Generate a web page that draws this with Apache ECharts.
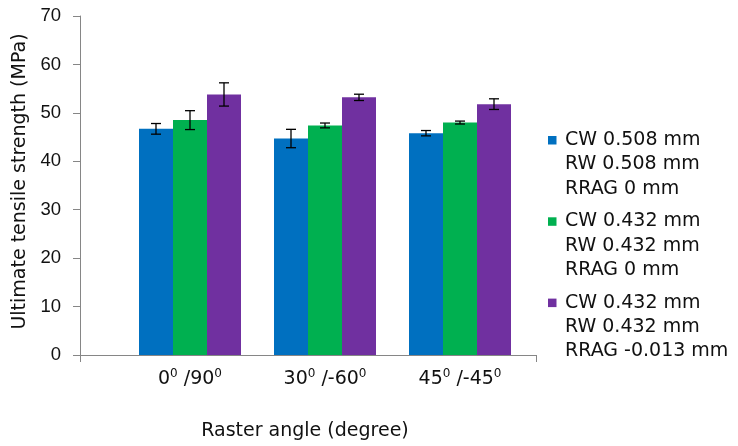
<!DOCTYPE html>
<html>
<head>
<meta charset="utf-8">
<script src="https://cdn.jsdelivr.net/npm/echarts@6/dist/echarts.min.js"></script>
<style>
html,body{margin:0;padding:0;background:#fff;}
#c{width:738px;height:446px;}
</style>
</head>
<body>
<div id="c"></div>
<script>
// ---- data ----
const categories = ['0/90', '30/-60', '45/-45'];
const seriesNames = [
  'CW 0.508 mm\nRW 0.508 mm\nRRAG 0 mm',
  'CW 0.432 mm\nRW 0.432 mm\nRRAG 0 mm',
  'CW 0.432 mm\nRW 0.432 mm\nRRAG -0.013 mm'
];
const valuesA = [46.7, 44.7, 45.8];
const valuesB = [48.5, 47.4, 48.0];
const valuesC = [53.8, 53.2, 51.8];
const errorsA = [1.1, 1.9, 0.55];
const errorsB = [1.95, 0.5, 0.3];
const errorsC = [2.4, 0.65, 1.1];
const yTicks = [0, 10, 20, 30, 40, 50, 60, 70];
const yTitle = 'Ultimate tensile strength (MPa)';
const xTitle = 'Raster angle (degree)';

// ---- styling ----
const colors = ['#0070C0', '#00B050', '#7030A0'];
const FONT = '"DejaVu Sans", sans-serif';
const FONT_NUM = '"Liberation Sans", Arial, sans-serif';
const TXT = '#111111';
const AX = '#868686';
const BAR_W = 34;

const values = [valuesA, valuesB, valuesC];
const errors = [errorsA, errorsB, errorsC];

const chart = echarts.init(document.getElementById('c'), null, {renderer: 'canvas'});

const series = [];
values.forEach((vals, si) => {
  series.push({
    name: seriesNames[si],
    type: 'bar',
    xAxisIndex: 1,
    yAxisIndex: 1,
    data: vals,
    barWidth: BAR_W,
    barGap: '0%',
    itemStyle: {color: colors[si]},
    emphasis: {disabled: true},
    z: 2
  });
});
values.forEach((vals, si) => {
  series.push({
    type: 'custom',
    xAxisIndex: 1,
    yAxisIndex: 1,
    z: 5,
    data: vals.map((v, i) => [i, v - errors[si][i], v + errors[si][i]]),
    renderItem: function (params, api) {
      const lo = api.coord([api.value(0), api.value(1)]);
      const hi = api.coord([api.value(0), api.value(2)]);
      const off = (si - 1) * BAR_W;
      const x = lo[0] + off;
      const cap = 5;
      const st = {stroke: '#000', lineWidth: 1.3};
      return {
        type: 'group',
        children: [
          {type: 'line', shape: {x1: x, y1: lo[1], x2: x, y2: hi[1]}, style: st},
          {type: 'line', shape: {x1: x - cap, y1: hi[1], x2: x + cap, y2: hi[1]}, style: st},
          {type: 'line', shape: {x1: x - cap, y1: lo[1], x2: x + cap, y2: lo[1]}, style: st}
        ]
      };
    }
  });
});

// legend drawn as graphic (icon aligned to first line)
const legendGraphics = [];
seriesNames.forEach((nm, si) => {
  const baseY = 140.5 + si * 81.3;
  legendGraphics.push({
    type: 'rect', left: 548, top: baseY - 4.5,
    shape: {width: 8.5, height: 8.5},
    style: {fill: colors[si]}
  });
  legendGraphics.push({
    type: 'text', left: 565, top: baseY - 12.5,
    style: {text: nm, font: '19px ' + FONT, fill: TXT, lineHeight: 24.3}
  });
});

const option = {
  animation: false,
  grid: [
    {left: 80, right: 202, top: 16, bottom: 91},
    {left: 122.5, right: 210.5, top: 16, bottom: 91}
  ],
  xAxis: [
    {
      type: 'category', gridIndex: 0, data: [''], boundaryGap: true,
      axisLine: {lineStyle: {color: AX, width: 1}},
      axisTick: {show: true, length: 7, lineStyle: {color: AX}},
      axisLabel: {show: false},
      name: xTitle, nameLocation: 'middle', nameGap: 67,
      nameTextStyle: {fontFamily: FONT, fontSize: 19, color: TXT, padding: [0, 6, 0, 0]}
    },
    {
      type: 'category', gridIndex: 1, data: categories, boundaryGap: true,
      axisLine: {show: false}, axisTick: {show: false},
      axisLabel: {
        margin: 13,
        interval: 0,
        formatter: function (v) {
          const p = v.split('/');
          return '{a|' + p[0] + '}{s|0}{a| /' + p[1] + '}{s|0}';
        },
        rich: {
          a: {fontFamily: FONT, fontSize: 19, color: TXT, lineHeight: 22},
          s: {fontFamily: FONT, fontSize: 12, color: TXT, lineHeight: 12, verticalAlign: 'top'}
        }
      }
    }
  ],
  yAxis: [
    {
      type: 'value', gridIndex: 0, min: yTicks[0], max: yTicks[yTicks.length - 1], interval: 10,
      axisLine: {show: true, lineStyle: {color: AX, width: 1}},
      axisTick: {show: true, length: 7, lineStyle: {color: AX}},
      splitLine: {show: false},
      axisLabel: {margin: 19, fontFamily: FONT_NUM, fontSize: 18.5, color: TXT},
      name: yTitle, nameLocation: 'middle', nameGap: 44, nameRotate: 90,
      nameTextStyle: {fontFamily: FONT, fontSize: 19, color: TXT, padding: [0, 0, 0, 8]}
    },
    {
      type: 'value', gridIndex: 1, min: yTicks[0], max: yTicks[yTicks.length - 1], interval: 10,
      show: false, splitLine: {show: false}
    }
  ],
  graphic: legendGraphics,
  series: series
};
chart.setOption(option);
</script>
</body>
</html>
